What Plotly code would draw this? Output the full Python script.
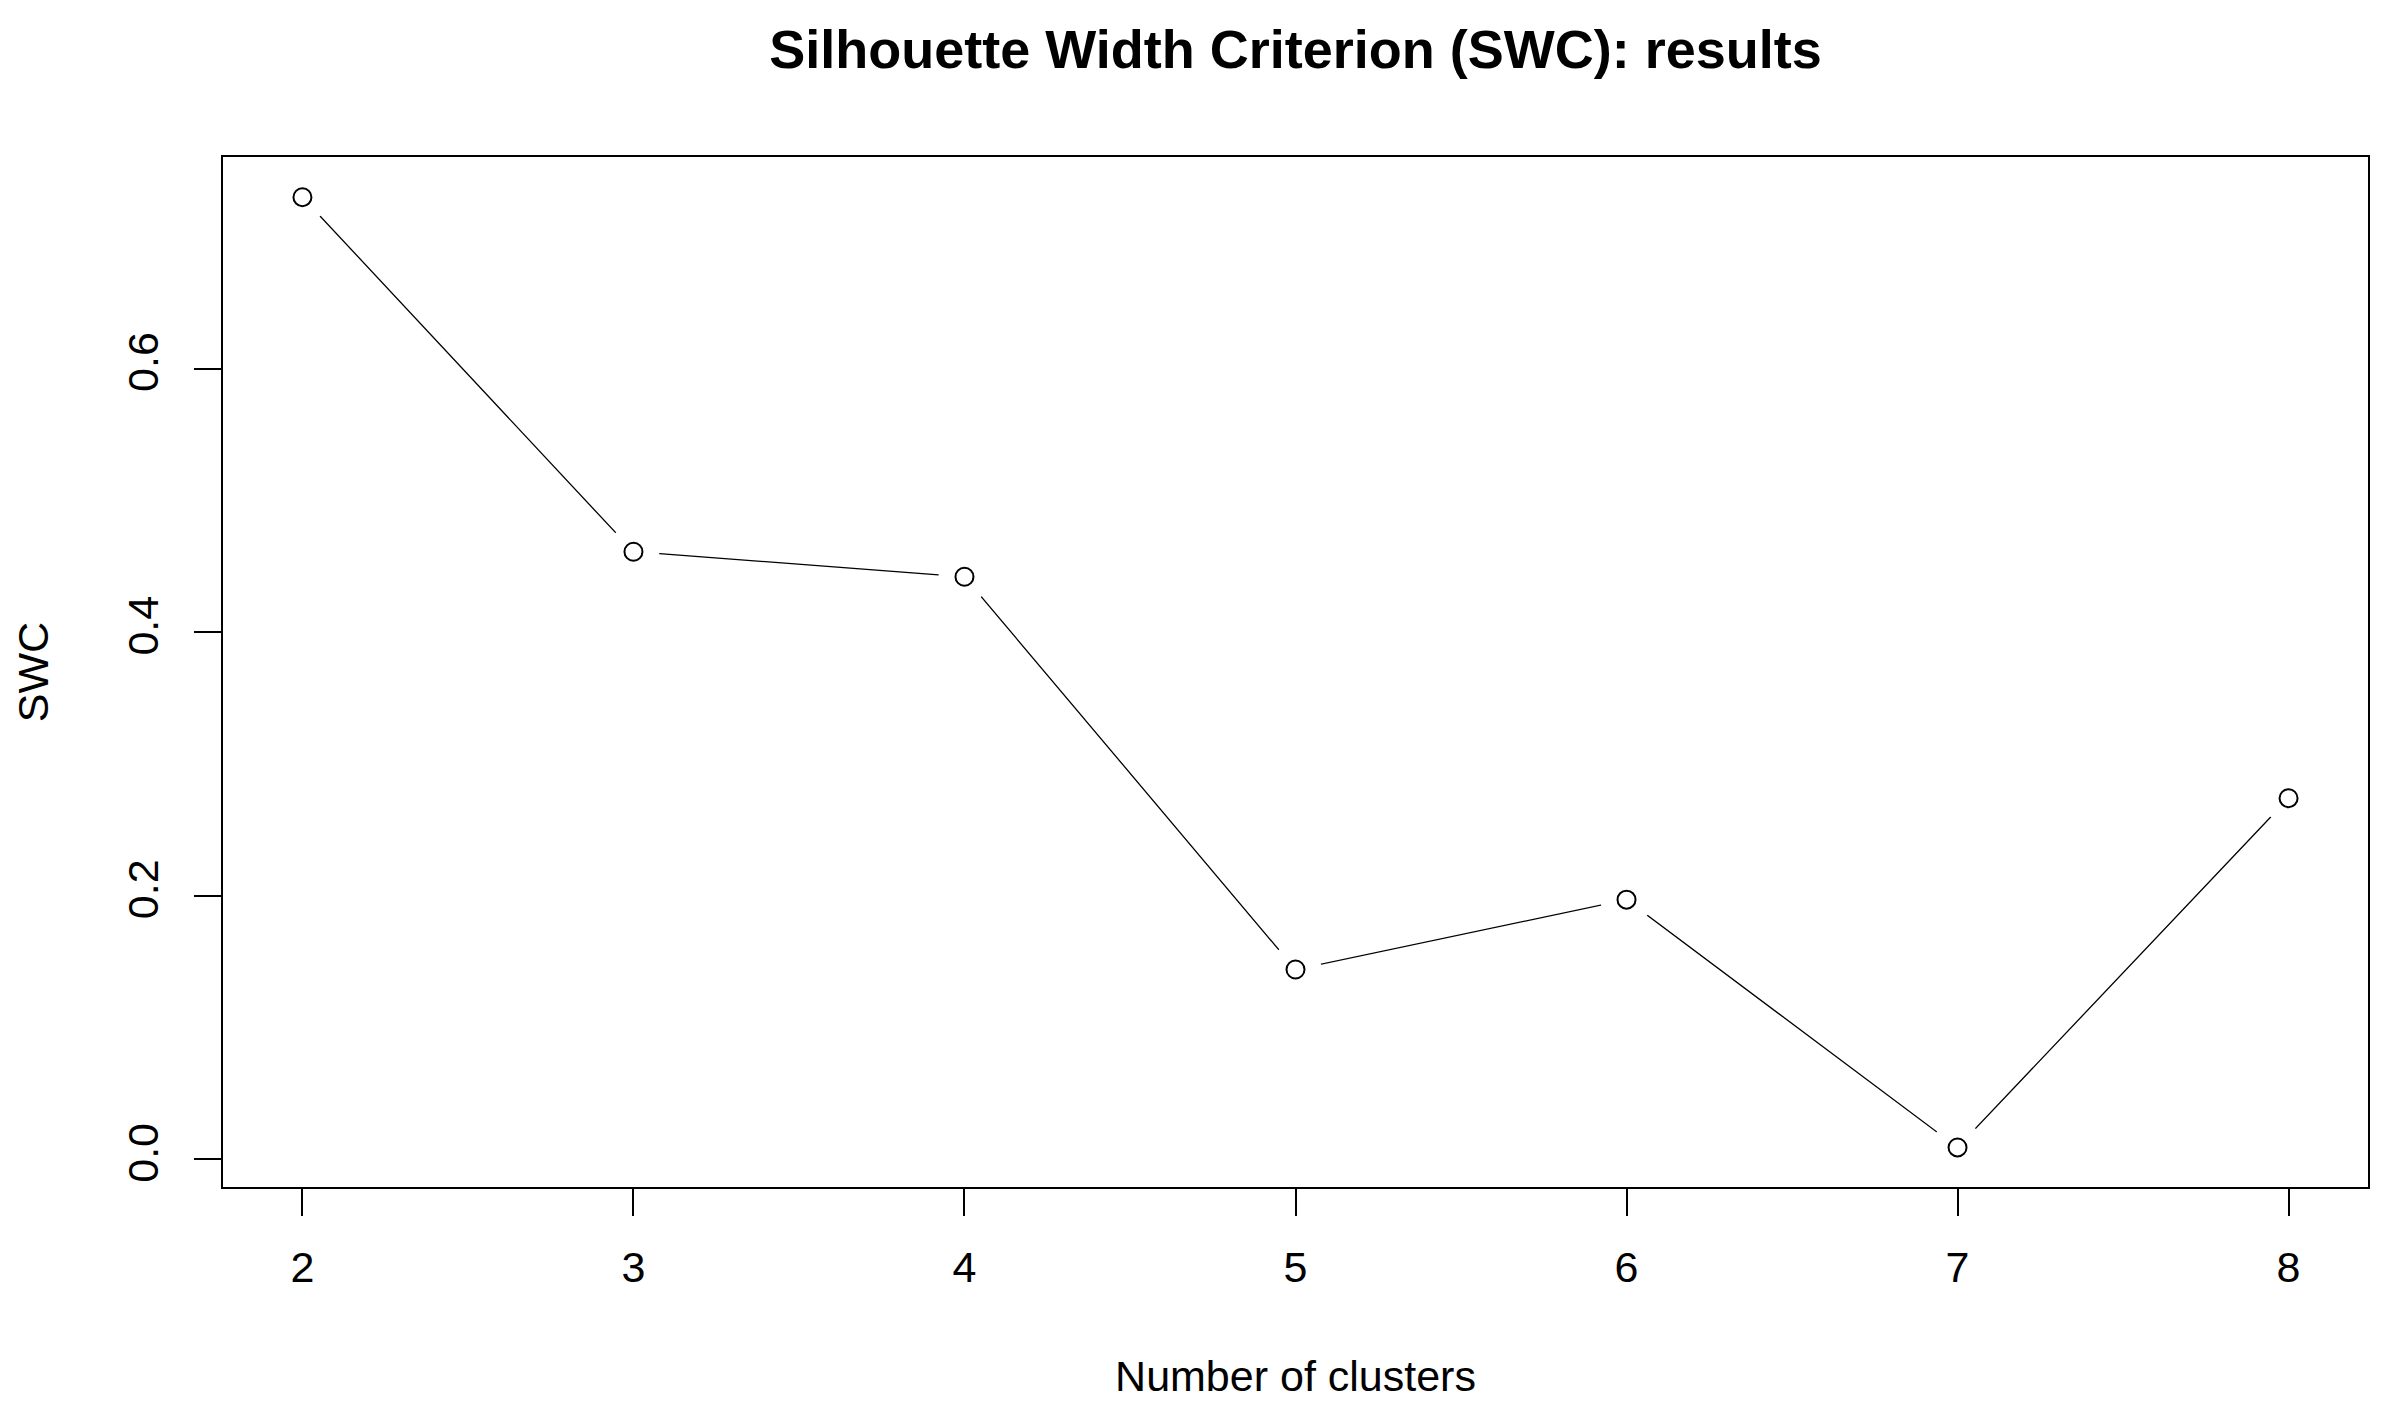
import plotly.graph_objects as go

clusters = [2, 3, 4, 5, 6, 7, 8]
swc = [0.730, 0.461, 0.442, 0.144, 0.197, 0.009, 0.274]
x_ticks = [2, 3, 4, 5, 6, 7, 8]
y_ticks = [0.0, 0.2, 0.4, 0.6]
y_tick_labels = ["0.0", "0.2", "0.4", "0.6"]

W, H = 2406, 1422
FONT = "Liberation Sans, Arial, sans-serif"

fig = go.Figure()
# connecting line
fig.add_trace(go.Scatter(x=clusters, y=swc, mode="lines",
                         line=dict(color="black", width=1.3),
                         hoverinfo="skip", showlegend=False))
# white mask to create the R type="b" gaps around points
fig.add_trace(go.Scatter(x=clusters, y=swc, mode="markers",
                         marker=dict(size=52, color="white", line=dict(width=0)),
                         hoverinfo="skip", showlegend=False))
# open circles
fig.add_trace(go.Scatter(x=clusters, y=swc, mode="markers",
                         marker=dict(size=18, color="white", symbol="circle",
                                     line=dict(color="black", width=2)),
                         showlegend=False))

fig.update_layout(
    width=W, height=H,
    margin=dict(l=215, r=46, t=149, b=243),
    paper_bgcolor="white", plot_bgcolor="white",
    font=dict(family=FONT, color="black", size=43),
    title=dict(text="<b>Silhouette Width Criterion (SWC): results</b>",
               x=0.5, xref="paper", xanchor="center",
               y=1 - 41 / H, yref="container", yanchor="middle",
               font=dict(family=FONT, size=54, color="black")),
)

fig.update_xaxes(
    range=[1.76, 8.24], tickvals=x_ticks, ticktext=[str(v) for v in x_ticks],
    showgrid=False, zeroline=False, showline=True, mirror=True,
    linecolor="black", linewidth=2,
    ticks="outside", ticklen=27, tickwidth=2, tickcolor="black",
    tickfont=dict(size=43, family=FONT, color="black"),
    ticklabelstandoff=14,
    title=dict(text="Number of clusters", standoff=71,
               font=dict(size=43, family=FONT, color="black")),
)
fig.update_yaxes(
    range=[-0.021, 0.7605], tickvals=y_ticks, ticktext=y_tick_labels,
    tickangle=-90,
    showgrid=False, zeroline=False, showline=True, mirror=True,
    linecolor="black", linewidth=2,
    ticks="outside", ticklen=27, tickwidth=2, tickcolor="black",
    tickfont=dict(size=43, family=FONT, color="black"),
    ticklabelstandoff=19,
    title=dict(text="SWC", standoff=57,
               font=dict(size=43, family=FONT, color="black")),
)

fig.write_html("out.html")
